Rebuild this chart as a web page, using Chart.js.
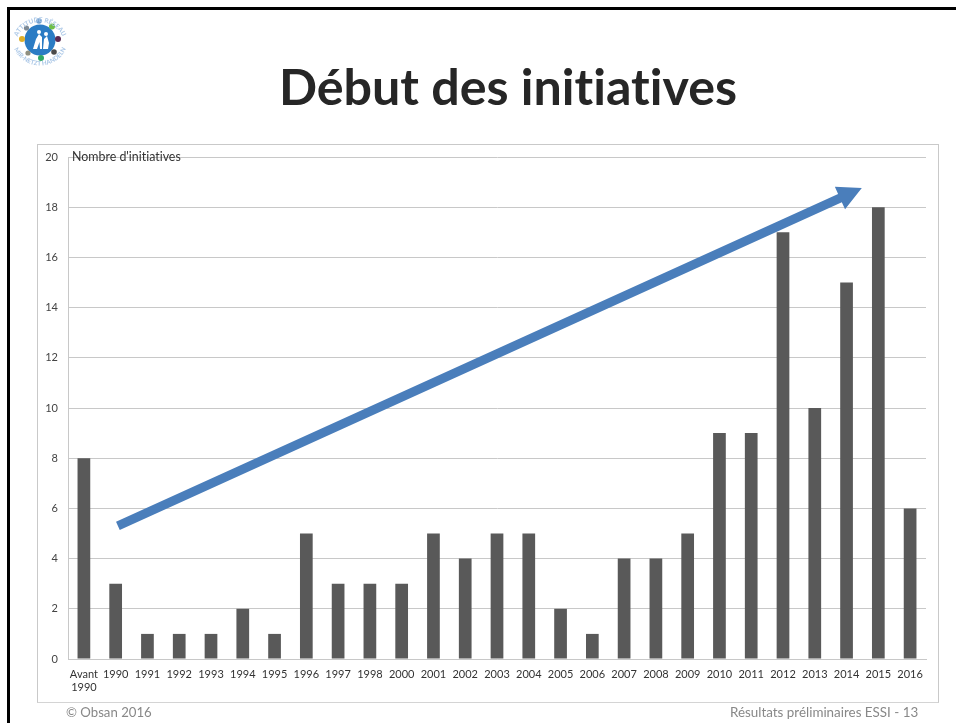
<!DOCTYPE html>
<html><head><meta charset="utf-8">
<script src="https://cdn.jsdelivr.net/npm/chart.js@4"></script>
<style>
html,body{margin:0;padding:0;background:#fff;width:956px;height:723px;overflow:hidden;font-family:Lato,"Open Sans",sans-serif;font-variant-ligatures:none}
#wrap{position:relative;width:956px;height:723px}
#frameT{position:absolute;left:7px;top:7px;width:949px;height:2.5px;background:#000}
#frameL{position:absolute;left:7px;top:7px;width:3px;height:716px;background:#000}
#box{position:absolute;left:37px;top:144px;width:902px;height:559px;border:1px solid #c9c9c9;box-sizing:border-box;border-bottom-color:#d4d4d4}
canvas{position:absolute;left:0;top:0}
#title{position:absolute;left:0;top:58px;width:1016px;text-align:center;font-size:50.2px;font-weight:700;color:#262626;line-height:56px}
#ylab{position:absolute;left:72px;top:150px;font-size:12.4px;color:#333;line-height:14px}
#fl{position:absolute;left:66px;top:703px;font-size:13.2px;color:#888;line-height:18px}
#fr{position:absolute;left:730px;top:703px;font-size:13.4px;color:#888;line-height:18px}
#logo{position:absolute;left:12px;top:11px;overflow:visible}
</style></head><body>
<div id="wrap">
<div id="frameT"></div><div id="frameL"></div><div id="box"></div>
<canvas id="c" width="956" height="723"></canvas>
<div id="title">Début des initiatives</div>
<div id="ylab">Nombre d'initiatives</div>
<div id="fl">© Obsan 2016</div>
<div id="fr">Résultats préliminaires ESSI - 13</div>
<svg id="logo" width="56" height="56" viewBox="0 0 56 56">
<defs>
<path id="arcT" d="M4 32 A24.2 24.2 0 0 1 52 32"/>
<path id="arcB" d="M-0.5 26 A28.5 28.5 0 0 0 56.5 26"/>
</defs>
<circle cx="28" cy="29" r="15.5" fill="#2b7cc4"/>
<path d="M21 38 L24 28 L27 23 L30 26 L30 38 L28 38 L27.5 31 L25 38 Z M31 38 L32 28 L35 25 L37 32 L36 38 Z" fill="#fff"/>
<circle cx="27" cy="21" r="2" fill="#fff"/><circle cx="34" cy="23" r="2" fill="#fff"/>
<g>
<circle cx="14.5" cy="17" r="2.6" fill="#7d8a96"/><circle cx="27" cy="10" r="2.8" fill="#6f9fd0"/>
<circle cx="40" cy="15.5" r="3" fill="#6fbf4a"/><circle cx="46" cy="28" r="3" fill="#5b2a52"/>
<circle cx="42" cy="41" r="2.8" fill="#4a4a4a"/><circle cx="29" cy="47" r="3" fill="#2fa866"/>
<circle cx="16" cy="42" r="2.6" fill="#8f8f80"/><circle cx="10" cy="28" r="3" fill="#e0b02a"/>
</g>
<text font-size="6.4" fill="#a9c6e6" font-family="Lato" font-weight="700"><textPath href="#arcT" startOffset="50%" text-anchor="middle">ATTITUDE RÉSEAU</textPath></text>
<text font-size="6.2" fill="#a9c6e6" font-family="Lato" font-weight="700"><textPath href="#arcB" startOffset="50%" text-anchor="middle">MIR-NETZT HANDELN</textPath></text>
</svg>
</div>
<script>
const categories = [["Avant","1990"],"1990","1991","1992","1993","1994","1995","1996","1997","1998","2000","2001","2002","2003","2004","2005","2006","2007","2008","2009","2010","2011","2012","2013","2014","2015","2016"];
const initiatives = [8,3,1,1,1,2,1,5,3,3,3,5,4,5,5,2,1,4,4,5,9,9,17,10,15,18,6];
const yTicks = [0,2,4,6,8,10,12,14,16,18,20];
// arrow ends, in chart units: category index and value
const arrowStart = [1.07, 5.3];
const arrowEnd = [24.48, 18.76];

const arrowPlugin = {
  id:'trendArrow',
  afterDatasetsDraw(chart){
    const {ctx,scales:{x,y}} = chart;
    const px = v => x.getPixelForValue(0) + v*(x.getPixelForValue(1)-x.getPixelForValue(0));
    const x0=px(arrowStart[0]), y0=y.getPixelForValue(arrowStart[1]);
    const x1=px(arrowEnd[0]), y1=y.getPixelForValue(arrowEnd[1]);
    const a=Math.atan2(y1-y0,x1-x0);
    const head=24, hw=12.3, w=9;
    ctx.save();
    ctx.translate(x0,y0); ctx.rotate(a);
    const L=Math.hypot(x1-x0,y1-y0);
    ctx.fillStyle='#4a7ebb';
    ctx.beginPath();
    ctx.moveTo(0,-w/2);ctx.lineTo(L-head,-w/2);ctx.lineTo(L-head,-hw);
    ctx.lineTo(L,0);ctx.lineTo(L-head,hw);ctx.lineTo(L-head,w/2);ctx.lineTo(0,w/2);
    ctx.closePath();ctx.fill();
    ctx.restore();
  }
};

new Chart(document.getElementById('c'),{
  type:'bar',
  data:{labels:categories,datasets:[{data:initiatives,backgroundColor:'#595959',barPercentage:0.4,categoryPercentage:1}]},
  plugins:[arrowPlugin],
  options:{
    responsive:false,animation:false,
    layout:{padding:{left:37,right:30,top:157,bottom:20}},
    plugins:{legend:{display:false},title:{display:false},tooltip:{enabled:false}},
    scales:{
      x:{
        grid:{display:false,drawTicks:false},
        border:{color:'#c8c8c8'},
        ticks:{color:'#333',font:{family:'Lato',size:11},maxRotation:0,minRotation:0,autoSkip:false,padding:9},
        afterFit(s){s.height=44;}
      },
      y:{
        min:0,max:20,
        afterBuildTicks(s){s.ticks=yTicks.map(v=>({value:v}));},
        grid:{color:'#c8c8c8',drawTicks:false},
        border:{color:'#c8c8c8'},
        ticks:{color:'#444',font:{family:'Lato',size:11},padding:10},
        afterFit(s){s.width=31;}
      }
    }
  }
});
</script>
</body></html>
